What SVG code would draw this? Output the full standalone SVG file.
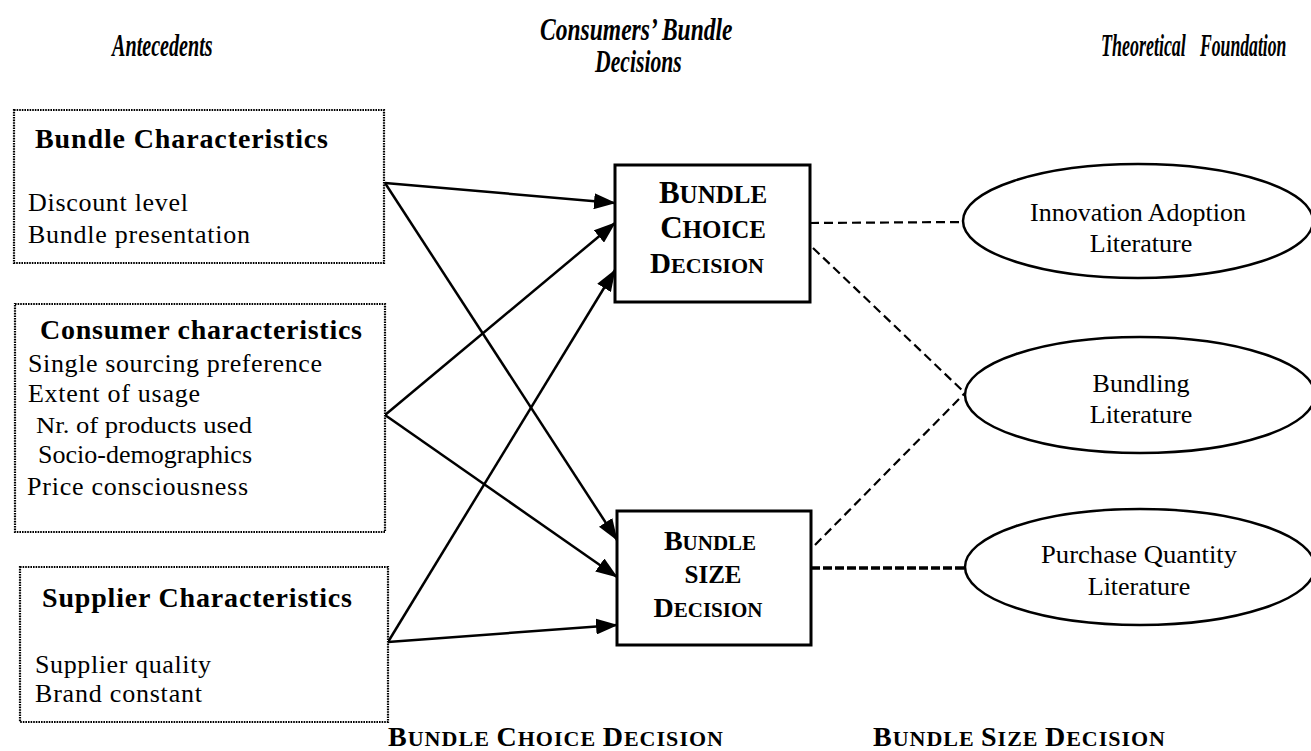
<svg xmlns="http://www.w3.org/2000/svg" width="1311" height="751" viewBox="0 0 1311 751">
<style>
text{font-family:"Liberation Serif","Times New Roman",serif;fill:#000}
.hdr{font-size:31px;font-weight:bold;font-style:italic}
.ttl{font-size:28px;font-weight:bold}
.itm{font-size:26px}
.lit{font-size:26px}
.cap{font-weight:bold}
.dot{fill:#fff;stroke:#000;stroke-width:2.2;stroke-dasharray:1.6 1}
.dec{fill:#fff;stroke:#000;stroke-width:3}
.ell{fill:#fff;stroke:#000;stroke-width:2.5}
.arr{stroke:#000;stroke-width:2.5;fill:none;marker-end:url(#ah)}
.dsh{stroke:#000;stroke-width:2.2;fill:none;stroke-dasharray:9 5}
.dsh2{stroke:#000;stroke-width:3.5;fill:none;stroke-dasharray:9 3}
</style>
<defs>
<marker id="ah" markerWidth="22" markerHeight="16" refX="21" refY="8" orient="auto" markerUnits="userSpaceOnUse" viewBox="0 0 22 16">
<path d="M0,0 L22,8 L0,16 Z" fill="#000"/>
</marker>
</defs>
<rect width="1311" height="751" fill="#fff"/>

<g id="headers">
<text class="hdr" transform="translate(112,56) scale(0.65,1)">Antecedents</text>
<text class="hdr" transform="translate(540,40) scale(0.76,1)">Consumers’ Bundle</text>
<text class="hdr" transform="translate(595,72) scale(0.7,1)">Decisions</text>
<text class="hdr" transform="translate(1101,56) scale(0.58,1)">Theoretical</text>
<text class="hdr" transform="translate(1200,56) scale(0.57,1)">Foundation</text>
</g>

<g id="connectors">
<line class="arr" x1="385" y1="183" x2="615" y2="203"/>
<line class="arr" x1="385" y1="183" x2="617" y2="540"/>
<line class="arr" x1="385" y1="415" x2="615" y2="223"/>
<line class="arr" x1="385" y1="415" x2="617" y2="577"/>
<line class="arr" x1="388" y1="642" x2="615" y2="270"/>
<line class="arr" x1="388" y1="642" x2="617" y2="625"/>
<line class="dsh" x1="810" y1="223" x2="963" y2="222"/>
<line class="dsh" x1="813" y1="248" x2="965" y2="393"/>
<line class="dsh" x1="815" y1="545" x2="965" y2="393"/>
<line class="dsh2" x1="811" y1="568" x2="965" y2="568"/>
</g>

<g id="bundle-characteristics">
<rect class="dot" x="14" y="110" width="370" height="153"/>
<text class="ttl" x="35" y="148" textLength="293">Bundle Characteristics</text>
<text class="itm" x="28" y="211" textLength="160">Discount level</text>
<text class="itm" x="28" y="243" textLength="222">Bundle presentation</text>
</g>

<g id="consumer-characteristics">
<rect class="dot" x="15" y="304" width="370" height="228"/>
<text class="ttl" x="40" y="339" textLength="322">Consumer characteristics</text>
<text class="itm" x="28" y="372" textLength="294">Single sourcing preference</text>
<text class="itm" x="28" y="402" textLength="172">Extent of usage</text>
<text class="itm" x="36" y="433" textLength="216" lengthAdjust="spacingAndGlyphs" style="font-size:23px">Nr. of products used</text>
<text class="itm" x="38" y="463" textLength="214">Socio-demographics</text>
<text class="itm" x="27" y="495" textLength="221">Price consciousness</text>
</g>

<g id="supplier-characteristics">
<rect class="dot" x="20" y="567" width="368" height="155"/>
<text class="ttl" x="42" y="607" textLength="310">Supplier Characteristics</text>
<text class="itm" x="35" y="673" textLength="176">Supplier quality</text>
<text class="itm" x="35" y="702" textLength="167">Brand constant</text>
</g>

<g id="bundle-choice-decision">
<rect class="dec" x="615" y="165" width="195" height="137"/>
<text class="cap" x="713" y="203" text-anchor="middle"><tspan font-size="31">B</tspan><tspan font-size="25">UNDLE</tspan></text>
<text class="cap" x="713" y="238" text-anchor="middle"><tspan font-size="31">C</tspan><tspan font-size="25">HOICE</tspan></text>
<text class="cap" x="707" y="273" text-anchor="middle"><tspan font-size="29">D</tspan><tspan font-size="22">ECISION</tspan></text>
</g>

<g id="bundle-size-decision">
<rect class="dec" x="617" y="511" width="194" height="134"/>
<text class="cap" x="710" y="550" text-anchor="middle"><tspan font-size="28">B</tspan><tspan font-size="21">UNDLE</tspan></text>
<text class="cap" x="713" y="583" text-anchor="middle" font-size="25">SIZE</text>
<text class="cap" x="708" y="617" text-anchor="middle"><tspan font-size="28">D</tspan><tspan font-size="21">ECISION</tspan></text>
</g>

<g id="innovation-adoption">
<ellipse class="ell" cx="1138" cy="221" rx="175" ry="57"/>
<text class="lit" x="1138" y="221" text-anchor="middle">Innovation Adoption</text>
<text class="lit" x="1141" y="252" text-anchor="middle">Literature</text>
</g>

<g id="bundling">
<ellipse class="ell" cx="1140" cy="395" rx="175" ry="58"/>
<text class="lit" x="1141" y="392" text-anchor="middle">Bundling</text>
<text class="lit" x="1141" y="423" text-anchor="middle">Literature</text>
</g>

<g id="purchase-quantity">
<ellipse class="ell" cx="1140" cy="567" rx="175" ry="58"/>
<text class="lit" x="1139" y="563" text-anchor="middle" textLength="196" lengthAdjust="spacingAndGlyphs">Purchase Quantity</text>
<text class="lit" x="1139" y="595" text-anchor="middle">Literature</text>
</g>

<g id="footer">
<text class="cap" x="388" y="746" textLength="335"><tspan font-size="28">B</tspan><tspan font-size="22">UNDLE  </tspan><tspan font-size="28">C</tspan><tspan font-size="22">HOICE  </tspan><tspan font-size="28">D</tspan><tspan font-size="22">ECISION</tspan></text>
<text class="cap" x="873" y="746" textLength="292"><tspan font-size="28">B</tspan><tspan font-size="22">UNDLE  </tspan><tspan font-size="28">S</tspan><tspan font-size="22">IZE  </tspan><tspan font-size="28">D</tspan><tspan font-size="22">ECISION</tspan></text>
</g>
</svg>
